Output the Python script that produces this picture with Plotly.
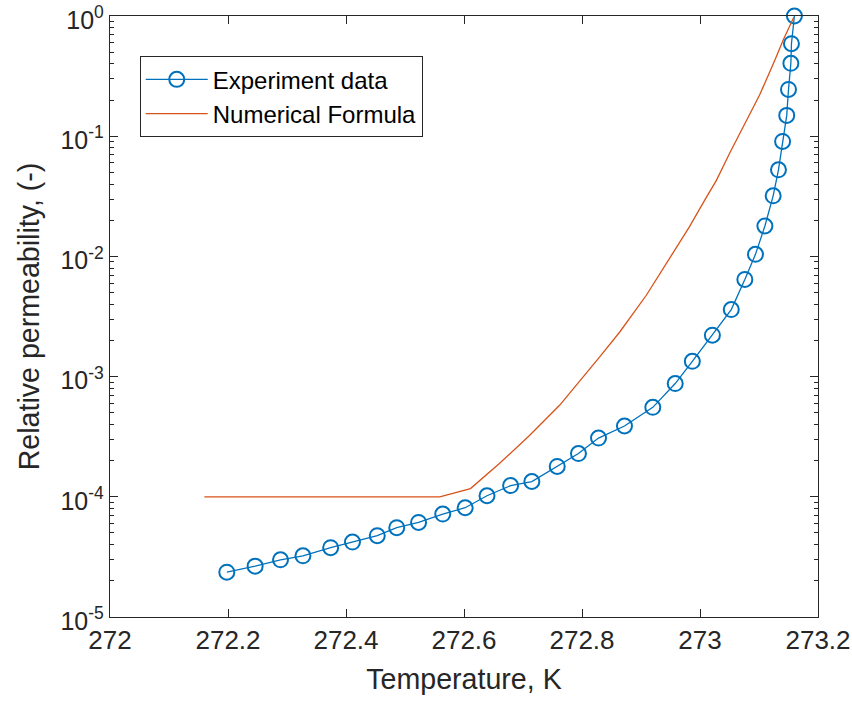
import plotly.graph_objects as go

# Experiment data (temperature K, relative permeability)
exp_T = [272.198, 272.246, 272.289, 272.327, 272.374, 272.411, 272.453, 272.486,
         272.523, 272.564, 272.602, 272.639, 272.679, 272.715, 272.758, 272.794,
         272.828, 272.872, 272.920, 272.958, 272.987, 273.021, 273.053, 273.076,
         273.094, 273.110, 273.124, 273.133, 273.140, 273.147, 273.150, 273.154,
         273.155, 273.160]
exp_k = [2.36e-5, 2.65e-5, 2.99e-5, 3.23e-5, 3.77e-5, 4.20e-5, 4.75e-5, 5.53e-5,
         6.12e-5, 7.18e-5, 8.11e-5, 1.02e-4, 1.24e-4, 1.34e-4, 1.79e-4, 2.29e-4,
         3.08e-4, 3.88e-4, 5.55e-4, 8.75e-4, 1.34e-3, 2.21e-3, 3.61e-3, 6.43e-3,
         1.04e-2, 1.79e-2, 3.19e-2, 5.25e-2, 9.05e-2, 0.149, 0.245, 0.404,
         0.588, 1.0]

# Numerical formula
num_T = [272.16, 272.559, 272.611, 272.660, 272.711, 272.762, 272.830, 272.864,
         272.909, 272.949, 272.982, 273.008, 273.028, 273.050, 273.101, 273.127,
         273.141, 273.159]
num_k = [1.0e-4, 1.0e-4, 1.17e-4, 1.89e-4, 3.24e-4, 5.77e-4, 1.46e-3, 2.35e-3,
         4.75e-3, 9.62e-3, 1.76e-2, 2.94e-2, 4.31e-2, 7.19e-2, 0.220, 0.431,
         0.631, 0.975]

x_ticks = [272, 272.2, 272.4, 272.6, 272.8, 273, 273.2]
x_ticktext = ["272", "272.2", "272.4", "272.6", "272.8", "273", "273.2"]
y_exps = [-5, -4, -3, -2, -1, 0]

FONT = "Liberation Sans, Arial, Helvetica, sans-serif"
AX = "#262626"
BLUE = "#0072BD"
RED = "#D95319"

fig = go.Figure()
fig.add_trace(go.Scatter(
    x=exp_T, y=exp_k, mode="lines+markers", name="Experiment data",
    line=dict(color=BLUE, width=1.3),
    marker=dict(symbol="circle-open", size=15, color=BLUE, line=dict(width=2, color=BLUE)),
    cliponaxis=False,
))
fig.add_trace(go.Scatter(
    x=num_T, y=num_k, mode="lines", name="Numerical Formula",
    line=dict(color=RED, width=1.3),
))

y_tickvals = [10.0 ** e for e in y_exps]
y_ticktext = ["10<sup>%d</sup>" % e for e in y_exps]
minor_vals = [k * 10.0 ** e for e in y_exps[:-1] for k in range(2, 10)]

fig.update_layout(
    width=852, height=704,
    margin=dict(l=110, r=34, t=16, b=87, autoexpand=False),
    paper_bgcolor="white", plot_bgcolor="white",
    font=dict(family=FONT, color=AX, size=26),
    showlegend=True,
    legend=dict(
        x=0.042, y=0.933, xanchor="left", yanchor="top",
        bgcolor="white", bordercolor=AX, borderwidth=1,
        font=dict(family=FONT, size=24, color="black"),
        tracegroupgap=0, itemwidth=62,
    ),
)
fig.update_xaxes(
    range=[272, 273.2], tickmode="array", tickvals=x_ticks, ticktext=x_ticktext,
    showgrid=False, zeroline=False, automargin=False,
    showline=True, linecolor=AX, linewidth=1.3, mirror="ticks",
    ticks="inside", ticklen=8, tickwidth=1.2, tickcolor=AX,
    tickfont=dict(size=26, color=AX, family=FONT), ticklabeloverflow="allow",
    title=dict(text="Temperature, K", font=dict(size=28.6, color=AX, family=FONT), standoff=14),
)
fig.update_yaxes(
    type="log", range=[-5, 0], tickmode="array", tickvals=y_tickvals, ticktext=y_ticktext,
    showgrid=False, zeroline=False, automargin=False,
    showline=True, linecolor=AX, linewidth=1.3, mirror="ticks",
    ticks="inside", ticklen=8, tickwidth=1.2, tickcolor=AX,
    tickfont=dict(size=25, color=AX, family=FONT), ticklabeloverflow="allow",
    ticklabelshift=4,
    minor=dict(tickmode="array", tickvals=minor_vals, ticks="inside", ticklen=4,
               tickwidth=1, tickcolor=AX, showgrid=False),
    title=dict(text="Relative permeability, (-)", font=dict(size=28.6, color=AX, family=FONT), standoff=12),
)

fig.write_html("out.html")
